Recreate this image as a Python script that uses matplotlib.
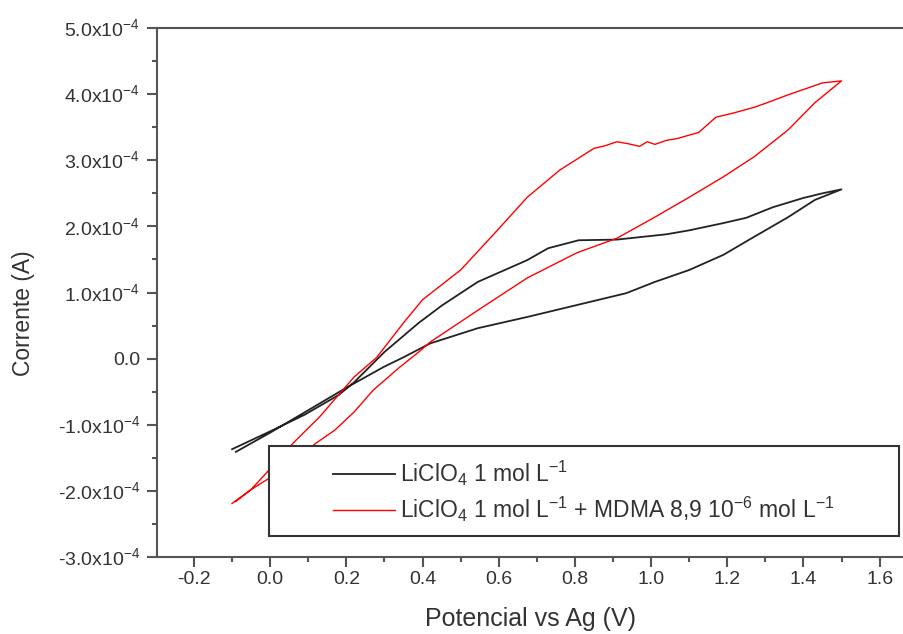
import numpy as np
import matplotlib
matplotlib.use("Agg")
import matplotlib.pyplot as plt
from matplotlib.ticker import MultipleLocator, FuncFormatter
from matplotlib.patches import Rectangle

plt.rcParams['font.family'] = ['Liberation Sans', 'DejaVu Sans']
plt.rcParams['mathtext.fontset'] = 'custom'
plt.rcParams['mathtext.rm'] = 'Liberation Sans'

# LiClO4 1 mol/L (ida e volta), corrente em 1e-4 A
lic_x = [-0.10, 0.00, 0.09, 0.18, 0.22, 0.30, 0.39, 0.45, 0.545, 0.675, 0.73, 0.81,
         0.91, 1.04, 1.10, 1.19, 1.25, 1.32, 1.40, 1.45, 1.50,
         1.43, 1.36, 1.27, 1.19, 1.10, 1.01, 0.935, 0.805, 0.675, 0.545, 0.42,
         0.35, 0.30, 0.25, 0.20, 0.10, 0.00, -0.09]
lic_y = [-1.37, -1.10, -0.85, -0.55, -0.36, 0.10, 0.54, 0.80, 1.16, 1.49, 1.67, 1.79,
         1.80, 1.88, 1.94, 2.05, 2.13, 2.29, 2.43, 2.50, 2.56,
         2.40, 2.14, 1.84, 1.57, 1.34, 1.16, 0.99, 0.81, 0.63, 0.46, 0.23,
         0.02, -0.12, -0.28, -0.44, -0.78, -1.12, -1.41]

# LiClO4 + MDMA
mdma_x = [-0.10, -0.05, -0.01, 0.06, 0.13, 0.22, 0.28, 0.35, 0.40, 0.44, 0.50, 0.59,
          0.675, 0.76, 0.85, 0.88, 0.91, 0.94, 0.97, 0.99, 1.01, 1.04, 1.07, 1.10,
          1.125, 1.17, 1.22, 1.27, 1.30, 1.36, 1.45, 1.50,
          1.43, 1.36, 1.27, 1.19, 1.10, 1.01, 0.91, 0.805, 0.675, 0.545, 0.42,
          0.39, 0.34, 0.27, 0.22, 0.17, 0.12, 0.05, 0.00, -0.05, -0.09]
mdma_y = [-2.19, -1.98, -1.73, -1.28, -0.88, -0.28, 0.02, 0.54, 0.89, 1.07, 1.34, 1.90,
          2.44, 2.85, 3.18, 3.22, 3.28, 3.25, 3.21, 3.28, 3.24, 3.30, 3.33, 3.38,
          3.42, 3.65, 3.72, 3.80, 3.86, 3.99, 4.17, 4.20,
          3.87, 3.46, 3.05, 2.75, 2.44, 2.14, 1.82, 1.60, 1.22, 0.73, 0.25,
          0.10, -0.13, -0.48, -0.81, -1.08, -1.28, -1.60, -1.80, -1.98, -2.16]

label_0 = r"LiClO$_{\mathregular{4}}$ 1 mol L$^{\mathregular{-1}}$"
label_1 = (r"LiClO$_{\mathregular{4}}$ 1 mol L$^{\mathregular{-1}}$ + MDMA 8,9 "
           r"10$^{\mathregular{-6}}$ mol L$^{\mathregular{-1}}$")

txt = '#333333'
fig = plt.figure(figsize=(9.04, 6.34), dpi=100)
ax = fig.add_axes([157 / 904, 77 / 634, 1 - 157 / 904, 529 / 634])

ax.plot(lic_x, np.array(lic_y) * 1e-4, color='#222222', lw=1.3, label=label_0)
ax.plot(mdma_x, np.array(mdma_y) * 1e-4, color='#ff0000', lw=1.0, label=label_1)

ax.set_xlim(-0.297, 1.664)
ax.set_ylim(-3e-4, 5e-4)
ax.xaxis.set_major_locator(MultipleLocator(0.2))
ax.xaxis.set_minor_locator(MultipleLocator(0.1))
ax.yaxis.set_major_locator(MultipleLocator(1e-4))
ax.yaxis.set_minor_locator(MultipleLocator(0.5e-4))


def yfmt(v, pos):
    m = v / 1e-4
    if abs(m) < 1e-9:
        return "0.0"
    return "%.1fx10$^{\\mathregular{-4}}$" % m


def xfmt(v, pos):
    return "%.1f" % v


ax.yaxis.set_major_formatter(FuncFormatter(yfmt))
ax.xaxis.set_major_formatter(FuncFormatter(xfmt))

for s in ['left', 'bottom', 'top']:
    ax.spines[s].set_color('#555555')
    ax.spines[s].set_linewidth(1.5)
ax.spines['right'].set_visible(False)
ax.tick_params(which='both', direction='out', color='#555555', width=1.5,
               labelcolor=txt, labelsize=14, top=False, right=False)
ax.tick_params(which='major', length=7)
ax.tick_params(which='minor', length=3.5)
ax.tick_params(axis='y', pad=5)
ax.tick_params(axis='x', pad=3)

ax.set_xlabel("Potencial vs Ag (V)", fontsize=18, color=txt, labelpad=14)
ax.set_ylabel("Corrente (A)", fontsize=16.5, color=txt)
ax.yaxis.set_label_coords(-0.163, 0.461)

# caixa da legenda
x0, x1 = (269 - 157) / 747, (899 - 157) / 747
y0, y1 = (557 - 536) / 529, (557 - 446) / 529
box = Rectangle((x0, y0), x1 - x0, y1 - y0, transform=ax.transAxes,
                facecolor='white', edgecolor='#333333', lw=1.5, zorder=3)
ax.add_patch(box)
leg = ax.legend(loc='center', bbox_to_anchor=((x0 + x1) / 2, (y0 + y1) / 2),
                bbox_transform=ax.transAxes, frameon=False, fontsize=16.5,
                handlelength=2.7, handletextpad=0.22, labelspacing=0.3,
                borderaxespad=0)
leg.set_zorder(4)
for t in leg.get_texts():
    t.set_color(txt)

plt.savefig("out.png", dpi=100)
